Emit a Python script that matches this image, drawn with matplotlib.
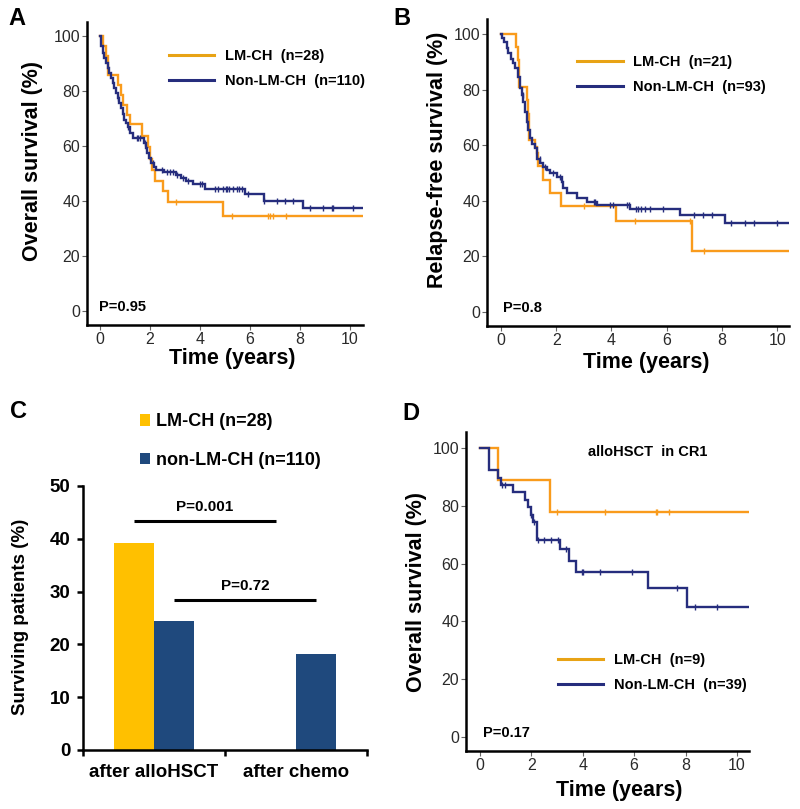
# KM curves (A, B, D) + surviving patients bar chart (C)
import numpy as np
import matplotlib
matplotlib.use("Agg")
import matplotlib.pyplot as plt
from matplotlib.lines import Line2D

plt.rcParams["font.family"] = ["Liberation Sans", "DejaVu Sans"]

ORANGE = "#F99B1C"
ORANGE_LEG = "#E8A315"
NAVY = "#262D7D"
BAR_YEL = "#FFC000"
BAR_NAVY = "#1F497D"
T_END = 10.5

# ---- A: overall survival
a_lm_t = [0, 0.13, 0.24, 0.33, 0.71, 0.84, 0.93, 1.07, 1.2, 1.67, 1.93, 1.98, 2.08, 2.2, 2.53, 2.73, 4.93]
a_lm_s = [100, 96.4, 92.9, 85.7, 82.1, 78.6, 75.0, 71.4, 67.9, 63.6, 59.5, 55.3, 51.2, 47.4, 43.6, 39.6, 34.6]
a_lm_cens = [3.03, 5.27, 6.73, 6.8, 6.9, 7.44]

a_non_t = [0, 0.05, 0.1, 0.17, 0.23, 0.3, 0.37, 0.43, 0.5, 0.57,
           0.63, 0.7, 0.77, 0.83, 0.9, 0.97, 1.03, 1.1, 1.2, 1.33,
           1.75, 1.82, 1.88, 1.95, 2.05, 2.15, 2.25, 2.55, 3.05, 3.25,
           3.45, 3.7, 4.2, 5.8, 6.55, 8.1]
a_non_s = [100, 96.4, 94, 92, 90.2, 88.3, 86.5, 84.6, 82.8, 81,
           79.1, 77.3, 75.5, 73.7, 71.6, 69.5, 68.2, 67, 64.6, 62.8,
           61, 59.2, 57.5, 55.8, 54, 52.5, 51.2, 50.6, 49.5, 48.5,
           47.3, 46, 44.2, 42.5, 40.1, 37.3]
a_non_cens = [0.73, 1.1, 1.47, 1.53, 1.6, 1.8, 2.1, 2.47, 2.67, 2.8, 2.93, 3.07,
              3.33, 3.53, 4.0, 4.07, 4.6, 4.73, 4.93, 5.04, 5.09, 5.17, 5.33, 5.47,
              5.57, 5.67, 5.93, 6.57, 7.07, 7.4, 7.73, 8.4, 8.9, 9.27, 9.33, 10.1]

# ---- B: relapse-free survival
b_lm_t = [0, 0.53, 0.6, 0.65, 0.93, 0.97, 1.0, 1.03, 1.23, 1.29, 1.33, 1.51, 1.78, 2.17, 4.15, 6.91]
b_lm_s = [100, 95.2, 90.5, 81.0, 76.2, 71.4, 66.7, 61.9, 59.5, 57.1, 52.4, 47.6, 42.9, 38.1, 32.9, 22.0]
b_lm_cens = [3.0, 4.86, 6.85, 7.36]

b_non_t = [0, 0.05, 0.12, 0.2, 0.27, 0.35, 0.43, 0.51, 0.6, 0.69,
           0.75, 0.81, 0.87, 0.93, 0.99, 1.05, 1.14, 1.23, 1.29, 1.41,
           1.53, 1.65, 1.78, 2.02, 2.2, 2.26, 2.38, 2.74, 3.1, 3.47,
           4.67, 6.49, 8.12]
b_non_s = [100, 98.5, 97, 94.8, 93, 91, 89.4, 87.7, 84.5, 80.5,
           78, 75.6, 72, 68.5, 65.5, 62.5, 60.5, 58.9, 55, 53.7,
           52.3, 51, 49.9, 48.7, 46.9, 44.5, 42.9, 40.9, 39.7, 38.5,
           36.9, 34.9, 31.9]
b_non_cens = [0.8, 1.4, 1.6, 1.9, 2.15, 3.35, 3.4, 3.95, 4.05, 4.55, 4.65, 4.89,
              4.97, 5.07, 5.22, 5.4, 5.88, 7.0, 7.31, 7.63, 8.33, 8.82, 9.17, 9.99]

# ---- C: surviving patients (%)
c_groups = ["after alloHSCT", "after chemo"]
c_lm = [39.2, 0]
c_non = [24.5, 18.1]
c_pvals = ["P=0.001", "P=0.72"]
c_plevel = [43.4, 28.4]

# ---- D: alloHSCT in CR1
d_lm_t = [0, 0.71, 2.72]
d_lm_s = [100, 88.9, 77.8]
d_lm_cens = [2.98, 4.86, 6.85, 6.9, 7.37]

d_non_t = [0, 0.36, 0.71, 0.82, 1.3, 1.75, 1.88, 1.97, 2.07, 2.2, 3.11, 3.47, 3.74, 6.55, 8.04]
d_non_s = [100, 92.3, 89.7, 87.2, 84.6, 82.0, 79.4, 76.9, 74.4, 68.2, 64.9, 61.0, 57.1, 51.5, 45.1]
d_non_cens = [0.84, 0.97, 2.0, 2.12, 2.27, 2.49, 2.76, 3.05, 3.35, 3.96, 4.02, 4.67,
              5.9, 7.68, 8.37, 9.21]


def km(ax, t, s, cens, color):
    tt = list(t) + [T_END]
    ss = list(s) + [s[-1]]
    ax.step(tt, ss, where="post", color=color, lw=1.7, solid_joinstyle="miter")
    idx = np.searchsorted(t, cens, side="right") - 1
    ax.plot(cens, np.array(s)[idx], ls="none", marker="|", ms=5, mew=1.0, color=color)


def style_km(ax, xlim, ylim, ylabel, xlab_pos, ylab_pos):
    ax.set_xlim(*xlim); ax.set_ylim(*ylim)
    ax.set_xticks(range(0, 11, 2)); ax.set_yticks(range(0, 101, 20))
    for sp in ["top", "right"]:
        ax.spines[sp].set_visible(False)
    for sp in ["left", "bottom"]:
        ax.spines[sp].set_linewidth(1.8)
    ax.tick_params(labelsize=11.5, labelcolor="#2a2a2a", length=3.5, width=0.8,
                   color="#666666", pad=1.5)
    ax.set_xlabel("Time (years)", fontsize=15.5, fontweight="bold")
    ax.set_ylabel(ylabel, fontsize=15.5, fontweight="bold")
    ax.xaxis.set_label_coords(*xlab_pos)
    ax.yaxis.set_label_coords(*ylab_pos)


def km_legend(ax, labels, anchor):
    h = [Line2D([], [], color=ORANGE_LEG, lw=2.2), Line2D([], [], color=NAVY, lw=2.2)]
    ax.legend(h, labels, loc="upper left", bbox_to_anchor=anchor, frameon=False,
              borderpad=0, handlelength=3.1, handletextpad=0.75, labelspacing=0.75,
              prop={"weight": "bold", "size": 10.5})


W, H = 800, 809
fig = plt.figure(figsize=(W / 100, H / 100), dpi=100)


def px_axes(l, t, r, b):
    return fig.add_axes([l / W, 1 - b / H, (r - l) / W, (b - t) / H])


# A
ax = px_axes(87, 22, 363, 325)
km(ax, a_lm_t, a_lm_s, a_lm_cens, ORANGE)
km(ax, a_non_t, a_non_s, a_non_cens, NAVY)
style_km(ax, (-0.52, 10.52), (-5.1, 105.1), "Overall survival (%)", (0.525, -0.075), (-0.16, 0.54))
km_legend(ax, ["LM-CH  (n=28)", "Non-LM-CH  (n=110)"], (0.27, 0.935))
ax.text(-0.05, 0, "P=0.95", fontsize=10.5, fontweight="bold", va="baseline")

# B
ax = px_axes(487, 19, 789, 326)
km(ax, b_lm_t, b_lm_s, b_lm_cens, ORANGE)
km(ax, b_non_t, b_non_s, b_non_cens, NAVY)
style_km(ax, (-0.507, 10.43), (-5.04, 105.4), "Relapse-free survival (%)", (0.526, -0.085), (-0.13, 0.54))
km_legend(ax, ["LM-CH  (n=21)", "Non-LM-CH  (n=93)"], (0.275, 0.905))
ax.text(0.07, 0, "P=0.8", fontsize=10.5, fontweight="bold", va="baseline")

# C
ax = px_axes(83, 486, 367, 750)
x = np.arange(len(c_groups))
bw = 0.28
ax.bar(x - bw / 2, c_lm, bw, color=BAR_YEL, label="LM-CH (n=28)")
ax.bar(x + bw / 2, c_non, bw, color=BAR_NAVY, label="non-LM-CH (n=110)")
# p-value brackets: same group across the two settings
for off, lev, p in zip([-bw / 2, bw / 2], c_plevel, c_pvals):
    x0, x1 = x[0] + off, x[1] + off
    ax.plot([x0, x1], [lev, lev], color="black", lw=2.2, solid_capstyle="butt")
    ax.text((x0 + x1) / 2, lev + 1.3, p, ha="center", va="bottom", fontsize=11, fontweight="bold")
ax.set_xlim(-0.5, 1.5); ax.set_ylim(0, 50)
ax.set_yticks(range(0, 51, 10))
ax.set_xticks([-0.5, 0.5, 1.5])
ax.set_xticks(x, minor=True)
ax.set_xticklabels([])
ax.set_xticklabels(c_groups, minor=True)
ax.tick_params(axis="x", which="minor", length=0, pad=10, labelsize=13.5)
ax.tick_params(axis="x", which="major", length=4, width=1.8, direction="out")
ax.tick_params(axis="y", length=4, width=1.8, pad=5, labelsize=13.5)
for lab in ax.get_xticklabels(minor=True) + ax.get_yticklabels():
    lab.set_fontweight("bold")
for sp in ["top", "right"]:
    ax.spines[sp].set_visible(False)
for sp in ["left", "bottom"]:
    ax.spines[sp].set_linewidth(1.8)
ax.set_ylabel("Surviving patients (%)", fontsize=13.5, fontweight="bold")
ax.yaxis.set_label_coords(-0.19, 0.505)
ax.legend(loc="lower left", bbox_to_anchor=(0.17, 1.03), frameon=False, borderpad=0,
          handlelength=0.55, handleheight=0.6, handletextpad=0.3, labelspacing=1.2,
          prop={"weight": "bold", "size": 13})

# D
ax = px_axes(466, 432, 749, 751)
km(ax, d_lm_t, d_lm_s, d_lm_cens, ORANGE)
km(ax, d_non_t, d_non_s, d_non_cens, NAVY)
style_km(ax, (-0.545, 10.47), (-4.84, 105.5), "Overall survival (%)", (0.54, -0.09), (-0.137, 0.5))
km_legend(ax, ["LM-CH  (n=9)", "Non-LM-CH  (n=39)"], (0.3, 0.33))
ax.text(0.12, 0, "P=0.17", fontsize=10.5, fontweight="bold", va="baseline")
ax.text(0.643, 0.925, "alloHSCT  in CR1", transform=ax.transAxes, ha="center",
        va="baseline", fontsize=10.5, fontweight="bold")

# panel letters
for lab, (px, py) in zip("ABCD", [(8, 25), (393, 25), (10, 418), (402, 420)]):
    fig.text(px / W, 1 - py / H, lab, fontsize=17, fontweight="bold", va="baseline")

fig.savefig("out.png", dpi=100)
